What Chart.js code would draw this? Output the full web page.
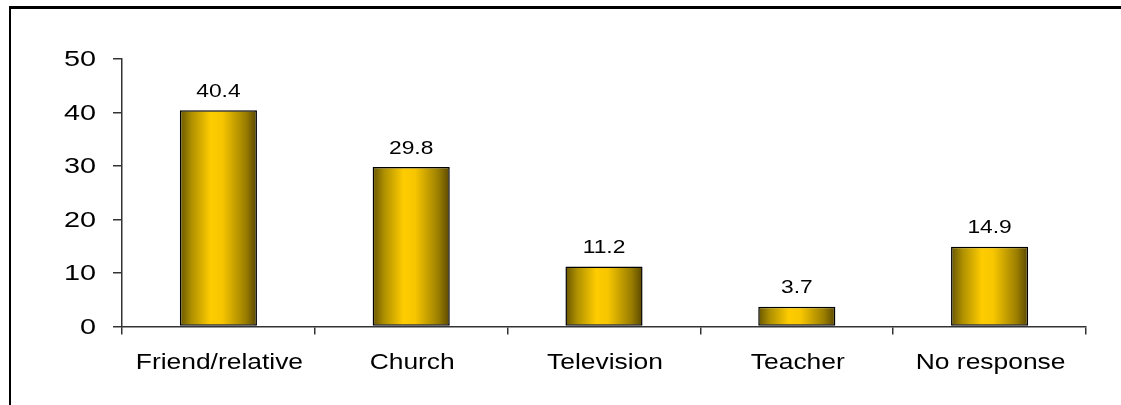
<!DOCTYPE html>
<html>
<head>
<meta charset="utf-8">
<script src="https://cdn.jsdelivr.net/npm/chart.js@4/dist/chart.umd.min.js"></script>
<style>
  html, body { margin: 0; padding: 0; background: #fff; overflow: hidden; }
  #wrap { position: relative; width: 1121px; height: 405px; }
  #frame { position: absolute; left: 9px; top: 6px; width: 1200px; height: 500px;
           border-top: 3px solid #000; border-left: 2px solid #000; }
  canvas { position: absolute; left: 0; top: 0; }
</style>
</head>
<body>
<div id="wrap">
  <div id="frame"></div>
  <canvas id="c" width="1121" height="405"></canvas>
</div>
<script>
const categories = ['Friend/relative', 'Church', 'Television', 'Teacher', 'No response'];
const values = [40.4, 29.8, 11.2, 3.7, 14.9];
const yTicks = [0, 10, 20, 30, 40, 50];

const FONT = '"Liberation Sans", Arial, sans-serif';
const BAR_PCT = 0.4;

function barGradient(context) {
  const chart = context.chart;
  const area = chart.chartArea;
  if (!area) return '#FFCC00';
  const xs = chart.scales.x;
  const cx = xs.getPixelForValue(context.dataIndex);
  const w = (area.right - area.left) / categories.length * BAR_PCT;
  const g = chart.ctx.createLinearGradient(cx - w / 2, 0, cx + w / 2, 0);
  g.addColorStop(0, '#685500');
  g.addColorStop(0.15, '#ae9000');
  g.addColorStop(0.4, '#ffcc00');
  g.addColorStop(0.55, '#f7c600');
  g.addColorStop(0.85, '#9c7f00');
  g.addColorStop(1, '#5a4800');
  return g;
}

function sText(ctx, text, x, y, sx, align, baseline, size) {
  ctx.save();
  ctx.translate(x, y);
  ctx.scale(sx, 1);
  ctx.font = size + 'px ' + FONT;
  ctx.fillStyle = '#000';
  ctx.textAlign = align;
  ctx.textBaseline = baseline;
  ctx.fillText(text, 0, 0);
  ctx.restore();
}

const textPlugin = {
  id: 'stretchedText',
  afterDraw(chart) {
    const ctx = chart.ctx;
    const ys = chart.scales.y;
    const xs = chart.scales.x;
    yTicks.forEach(v => {
      sText(ctx, String(v), 96, ys.getPixelForValue(v) + 1, 1.28, 'right', 'middle', 22.5);
    });
    categories.forEach((c, i) => {
      sText(ctx, c, xs.getPixelForValue(i) + 1, 369, 1.2, 'center', 'alphabetic', 22);
    });
    const meta = chart.getDatasetMeta(0);
    meta.data.forEach((bar, i) => {
      sText(ctx, values[i].toFixed(1), bar.x, bar.y - 13.5, 1.2, 'center', 'alphabetic', 19);
    });
  }
};

new Chart(document.getElementById('c'), {
  type: 'bar',
  data: {
    labels: categories,
    datasets: [{
      data: values,
      backgroundColor: barGradient,
      borderColor: '#000',
      borderWidth: 1.5,
      borderSkipped: false,
      barPercentage: BAR_PCT,
      categoryPercentage: 1.0
    }]
  },
  options: {
    responsive: false,
    animation: false,
    events: [],
    layout: { padding: { left: 0, right: 35, top: 59, bottom: 0 } },
    plugins: { legend: { display: false }, tooltip: { enabled: false } },
    scales: {
      x: {
        offset: true,
        ticks: { display: false },
        grid: { display: true, drawOnChartArea: false, drawTicks: true, tickLength: 8, color: '#333', lineWidth: 1.5, offset: true },
        border: { display: true, color: '#333', width: 1.5 },
        afterFit(scale) { scale.height = 405 - 326.5; }
      },
      y: {
        min: 0, max: 50,
        ticks: { display: false, stepSize: 10 },
        grid: { display: true, drawOnChartArea: false, drawTicks: true, tickLength: 9, color: '#333', lineWidth: 1.5 },
        border: { display: true, color: '#333', width: 1.5 },
        afterFit(scale) { scale.width = 122; }
      }
    }
  },
  plugins: [textPlugin]
});
</script>
</body>
</html>
